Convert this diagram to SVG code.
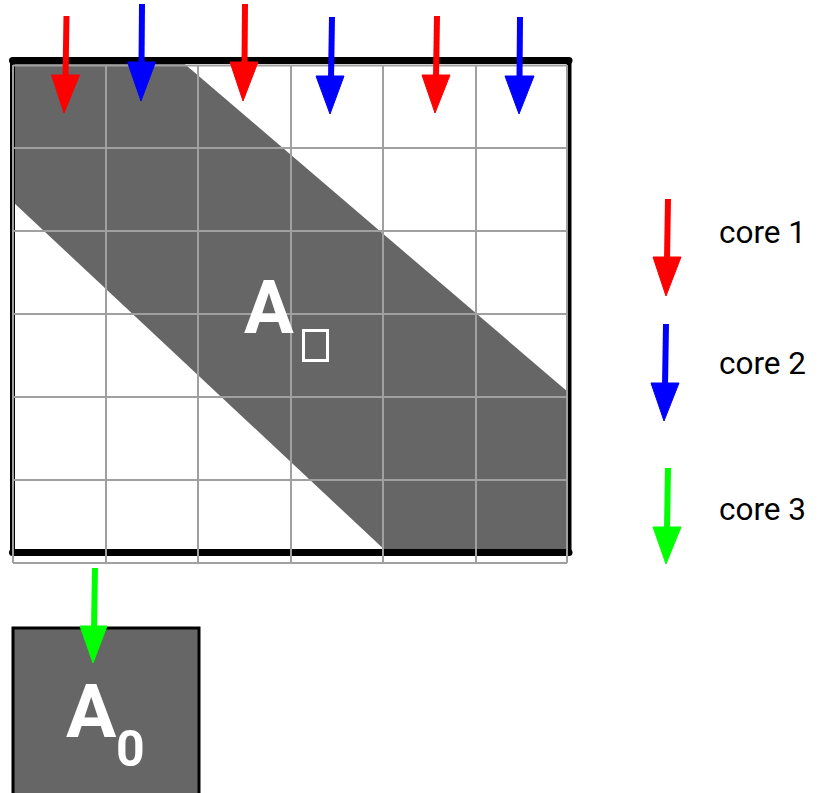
<svg xmlns="http://www.w3.org/2000/svg" width="823" height="793" viewBox="0 0 823 793">
<style>
.grid line{stroke:#a0a0a0;stroke-width:2}
.border line{stroke:#000;stroke-linecap:round}
.lbl{font-family:Roboto,"Liberation Sans",sans-serif;font-size:31.5px;fill:#000}
.big{font-family:Roboto,"Liberation Sans",sans-serif;font-weight:bold;fill:#fff}
.r{stroke:#ff0000;fill:#ff0000}
.b{stroke:#0000ff;fill:#0000ff}
.g{stroke:#00ff00;fill:#00ff00}
.shaft{stroke-width:6;fill:none}
</style>
<rect width="823" height="793" fill="#fff"/>
<g id="matrix">
<polygon points="13,60 180,60 568,392 568,553 388,553 13,202" fill="#666"/>
<g class="border">
<line x1="12.5" y1="60.5" x2="569" y2="60.5" stroke-width="7"/>
<line x1="12.5" y1="552.5" x2="569" y2="552.5" stroke-width="7"/>
<line x1="12.5" y1="60.5" x2="12.5" y2="552.5" stroke-width="5"/>
<line x1="569" y1="60.5" x2="569" y2="552.5" stroke-width="5"/>
</g>
<g class="grid">
<line x1="13" y1="65.5" x2="567" y2="65.5"/>
<line x1="13" y1="148" x2="567" y2="148"/>
<line x1="13" y1="231" x2="567" y2="231"/>
<line x1="13" y1="314" x2="567" y2="314"/>
<line x1="13" y1="397" x2="567" y2="397"/>
<line x1="13" y1="480" x2="567" y2="480"/>
<line x1="13" y1="563" x2="567" y2="563"/>
<line x1="13" y1="65" x2="13" y2="563"/>
<line x1="106" y1="65" x2="106" y2="563"/>
<line x1="198" y1="65" x2="198" y2="563"/>
<line x1="291" y1="65" x2="291" y2="563"/>
<line x1="383" y1="65" x2="383" y2="563"/>
<line x1="476" y1="65" x2="476" y2="563"/>
<line x1="567" y1="65" x2="567" y2="563"/>
</g>
<text class="big" x="244" y="333" font-size="74">A</text>
<rect x="303.5" y="330.5" width="24" height="30" fill="none" stroke="#fff" stroke-width="3"/>
</g>
<g id="A0">
<rect x="13" y="628" width="186" height="175" fill="#666" stroke="#000" stroke-width="3"/>
<text class="big" x="66" y="737" font-size="75">A</text>
<text class="big" x="116" y="766" font-size="50">0</text>
</g>
<g id="legend">
<text class="lbl" x="719" y="243">core 1</text>
<text class="lbl" x="719" y="374">core 2</text>
<text class="lbl" x="719" y="520">core 3</text>
</g>
<g id="connectors">
<line class="r shaft" x1="66.5" y1="16" x2="65.5" y2="78"/><polygon class="r" points="51.5,75 79.5,75 64,113"/>
<line class="b shaft" x1="142" y1="4" x2="141.5" y2="65"/><polygon class="b" points="127.5,62 155.5,62 141,101"/>
<line class="r shaft" x1="245" y1="4" x2="244.5" y2="65"/><polygon class="r" points="230,62 258,62 243,101"/>
<line class="b shaft" x1="332" y1="17" x2="331" y2="79"/><polygon class="b" points="316,76 344,76 330,114"/>
<line class="r shaft" x1="437" y1="16" x2="436" y2="78"/><polygon class="r" points="422,75 450,75 435,113"/>
<line class="b shaft" x1="520" y1="17" x2="519.5" y2="79"/><polygon class="b" points="505,76 534,76 519,114"/>
<line class="r shaft" x1="668" y1="199" x2="667" y2="260"/><polygon class="r" points="653,257 681,257 666,296"/>
<line class="b shaft" x1="666" y1="324" x2="665" y2="386"/><polygon class="b" points="651,383 679,383 664,421"/>
<line class="g shaft" x1="668" y1="468" x2="667" y2="530"/><polygon class="g" points="653,527 681,527 666,564"/>
<line class="g shaft" x1="95" y1="568" x2="94" y2="629"/><polygon class="g" points="80,626 107,626 93,663"/>
</g>
</svg>
